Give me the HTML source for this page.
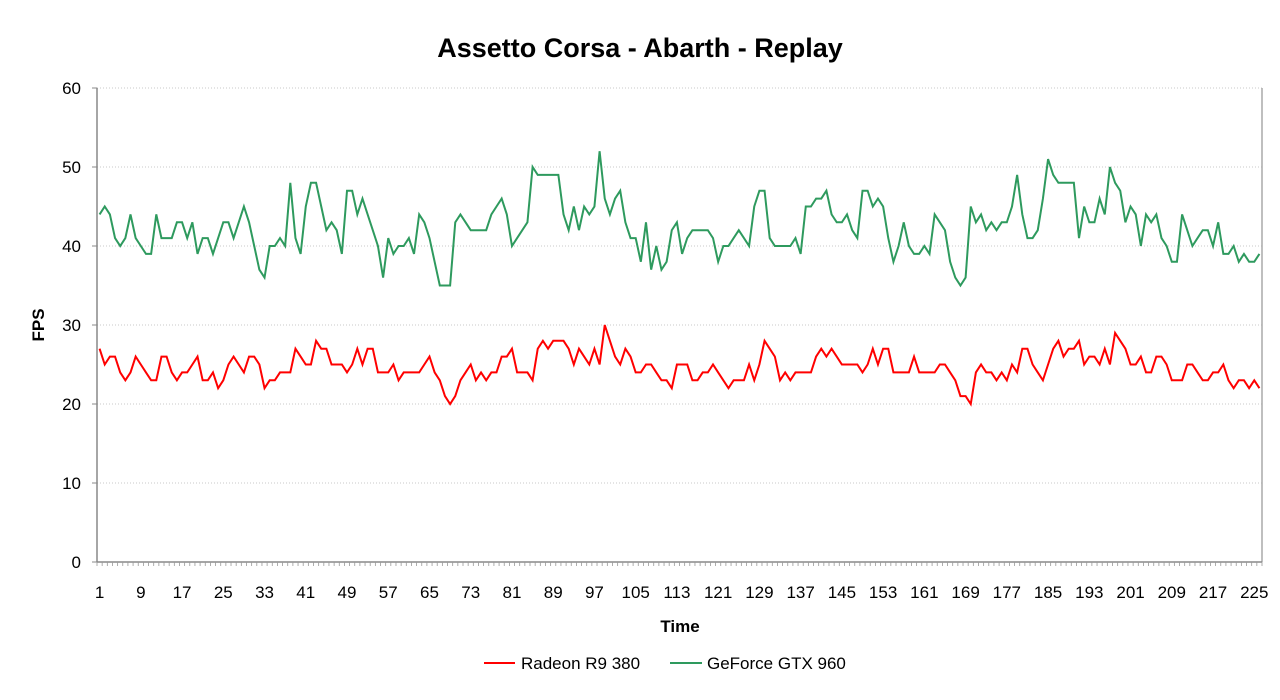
<!DOCTYPE html>
<html><head><meta charset="utf-8">
<style>
html,body{margin:0;padding:0;background:#fff;}
svg{display:block;font-family:"Liberation Sans",Arial,sans-serif;}
</style></head>
<body>
<svg id="chart" width="1280" height="700" viewBox="0 0 1280 700">
  <text x="640" y="57" text-anchor="middle" font-size="27" font-weight="bold" fill="#000">Assetto Corsa - Abarth - Replay</text>
  <g id="grid"></g>
  <g id="yaxis"></g>
  <g id="xaxis"></g>
  <g id="series"></g>
  <text transform="translate(44,325) rotate(-90)" text-anchor="middle" font-size="17" font-weight="bold">FPS</text>
  <text x="680" y="632" text-anchor="middle" font-size="17" font-weight="bold">Time</text>
  <g>
    <g>
      <line x1="484" y1="663" x2="515" y2="663" stroke="#ff0000" stroke-width="2"/>
      <text x="521" y="669" font-size="17">Radeon R9 380</text>
    </g>
    <g>
      <line x1="670" y1="663" x2="702" y2="663" stroke="#2e9a5e" stroke-width="2"/>
      <text x="707" y="669" font-size="17">GeForce GTX 960</text>
    </g>
  </g>
</svg>
<script>
const yTicks = [0,10,20,30,40,50,60];
const radeon = [27,25,26,26,24,23,24,26,25,24,23,23,26,26,24,23,24,24,25,26,23,23,24,22,23,25,26,25,24,26,26,25,22,23,23,24,24,24,27,
26,25,25,28,27,27,25,25,25,24,25,27,25,27,27,24,24,24,25,23,24,24,24,24,25,26,24,23,21,20,21,23,24,25,23,24,23,24,
24,26,26,27,24,24,24,23,27,28,27,28,28,28,27,25,27,26,25,27,25,30,28,26,25,27,26,24,24,25,25,24,23,23,22,25,25,
25,23,23,24,24,25,24,23,22,23,23,23,25,23,25,28,27,26,23,24,23,24,24,24,24,26,27,26,27,26,25,25,25,25,24,25,27,
25,27,27,24,24,24,24,26,24,24,24,24,25,25,24,23,21,21,20,24,25,24,24,23,24,23,25,24,27,27,25,24,23,25,27,28,26,27,
27,28,25,26,26,25,27,25,29,28,27,25,25,26,24,24,26,26,25,23,23,23,25,25,24,23,23,24,24,25,23,22,23,23,22,23,22];
const geforce = [44,45,44,41,40,41,44,41,40,39,39,44,41,41,41,43,43,41,43,39,41,41,39,41,43,43,41,43,45,43,40,37,36,40,40,41,40,48,41,
39,45,48,48,45,42,43,42,39,47,47,44,46,44,42,40,36,41,39,40,40,41,39,44,43,41,38,35,35,35,43,44,43,42,42,42,42,44,
45,46,44,40,41,42,43,50,49,49,49,49,49,44,42,45,42,45,44,45,52,46,44,46,47,43,41,41,38,43,37,40,37,38,42,43,39,
41,42,42,42,42,41,38,40,40,41,42,41,40,45,47,47,41,40,40,40,40,41,39,45,45,46,46,47,44,43,43,44,42,41,47,47,45,
46,45,41,38,40,43,40,39,39,40,39,44,43,42,38,36,35,36,45,43,44,42,43,42,43,43,45,49,44,41,41,42,46,51,49,48,48,48,
48,41,45,43,43,46,44,50,48,47,43,45,44,40,44,43,44,41,40,38,38,44,42,40,41,42,42,40,43,39,39,40,38,39,38,38,39];
const categories = radeon.map((_, i) => i + 1);
const xLabelStep = 8;

const NS = "http://www.w3.org/2000/svg";
const L = 97, R = 1262, T = 88, B = 562, yMin = 0, yMax = 60;
const bw = (R - L) / categories.length;
function xPos(i){ return L + bw * (i + 0.5); }
function yPos(v){ return B - (v - yMin) / (yMax - yMin) * (B - T); }
function mk(tag, attrs, parent){ const e = document.createElementNS(NS, tag); for (const k in attrs) e.setAttribute(k, attrs[k]); parent.appendChild(e); return e; }

const grid = document.getElementById('grid');
const ya = document.getElementById('yaxis');
const xa = document.getElementById('xaxis');
const ser = document.getElementById('series');

yTicks.forEach(v => {
  const y = yPos(v);
  if (v > 0) {
    const g = mk('line', {x1: L, x2: R, y1: y, y2: y, stroke: '#c8c8c8', 'stroke-width': 1, 'stroke-dasharray': '1,2'}, grid);
    
    
  }
  mk('line', {x1: L - 5, x2: L, y1: y, y2: y, stroke: '#888', 'stroke-width': 1}, ya);
  const t = mk('text', {x: L - 16, y: y + 6, 'text-anchor': 'end', 'font-size': 17}, ya);
  t.textContent = v;
  
  
});
mk('line', {x1: L, x2: L, y1: T, y2: B, stroke: '#888', 'stroke-width': 1.5}, ya);
mk('line', {x1: R, x2: R, y1: T, y2: B, stroke: '#aaa', 'stroke-width': 1.5}, ya);
mk('line', {x1: L, x2: R, y1: B, y2: B, stroke: '#888', 'stroke-width': 1.5}, xa);

for (let i = 0; i <= categories.length; i++) {
  const x = L + bw * i;
  mk('line', {x1: x, x2: x, y1: B, y2: B + 4, stroke: '#999', 'stroke-width': 0.8}, xa);
}
categories.forEach((c, i) => {
  if (i % xLabelStep === 0) {
    const t = mk('text', {x: xPos(i), y: 598, 'text-anchor': 'middle', 'font-size': 17}, xa);
    t.textContent = c;
    
    
  }
});

function drawLine(vals, color, name){
  const d = vals.map((v, i) => (i ? 'L' : 'M') + xPos(i).toFixed(2) + ',' + yPos(v).toFixed(2)).join('');
  const p = mk('path', {d: d, fill: 'none', stroke: color, 'stroke-width': 2, 'stroke-linejoin': 'miter'}, ser);
  
  
}
drawLine(geforce, '#2e9a5e', 'geforce-gtx-960-line');
drawLine(radeon, '#ff0000', 'radeon-r9-380-line');
</script>
</body></html>
